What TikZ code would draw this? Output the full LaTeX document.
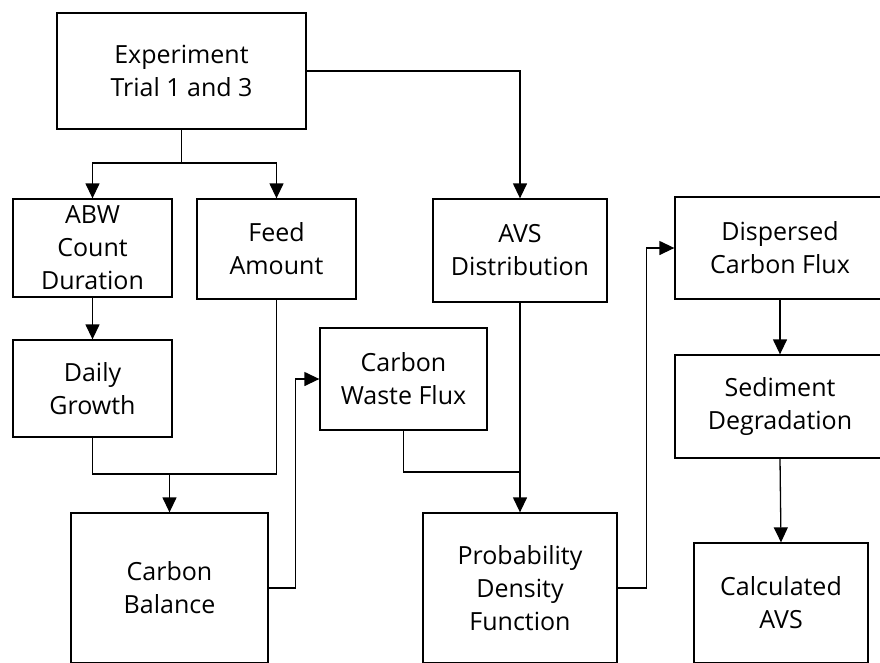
\documentclass[tikz,border=0pt]{standalone}
\usepackage{fontspec}
\setmainfont{Open Sans}
\usepackage{tikz}
\usetikzlibrary{arrows.meta,positioning,calc}

\begin{document}
\begin{tikzpicture}[x=1pt, y=-1pt, line width=1.3pt, >={Triangle[width=14pt,length=15pt]},
    box/.style={draw, rectangle, inner sep=0pt, align=center, font=\fontsize{25}{33}\selectfont}]
    \useasboundingbox (0,0) rectangle (880,662);
    \clip (0,0) rectangle (880,662);

    % Top
    \node[box, minimum width=249pt, minimum height=116pt] (exp) at (181.5, 71) {Experiment\\Trial 1 and 3};

    % Second row
    \node[box, minimum width=159pt, minimum height=98pt] (abw) at (92.5, 248) {ABW\\Count\\Duration};
    \node[box, minimum width=159pt, minimum height=100pt] (feed) at (276.5, 249) {Feed\\Amount};
    \node[box, minimum width=174pt, minimum height=103pt] (avs) at (520, 250.5) {AVS\\Distribution};
    \node[box, minimum width=210pt, minimum height=102pt] (disp) at (780, 248) {Dispersed\\Carbon Flux};

    % Middle
    \node[box, minimum width=159pt, minimum height=97pt] (daily) at (92.5, 388.5) {Daily\\Growth};
    \node[box, minimum width=167pt, minimum height=102pt] (cwf) at (403.5, 379) {Carbon\\Waste Flux};
    \node[box, minimum width=210pt, minimum height=103pt] (sed) at (780, 406.5) {Sediment\\Degradation};

    % Bottom
    \node[box, minimum width=197pt, minimum height=150pt] (cb) at (169.5, 588) {Carbon\\Balance};
    \node[box, minimum width=194pt, minimum height=150pt] (pdf) at (520, 588) {Probability\\Density\\Function};
    \node[box, minimum width=174pt, minimum height=120pt] (calc) at (781, 603) {Calculated\\AVS};

    % Connections
    \coordinate (split) at (181.5, 163);
    \draw (exp.south) -- (split);
    \draw[->] (split) -| (abw.north);
    \draw[->] (split) -| (feed.north);
    \draw[->] (exp.east) -| (avs.north);

    \draw[->] (abw.south) -- (daily.north);

    \coordinate (join) at (169.5, 474);
    \draw (daily.south) |- (join);
    \draw (feed.south) |- (join);
    \draw[->] (join) -- (cb.north);

    \draw[->] (cb.east) -- ++(27,0) |- (cwf.west);

    \coordinate (join2) at (520, 472);
    \draw (cwf.south) |- (join2);
    \draw[->] (avs.south) -- (pdf.north);

    \draw[->] (pdf.east) -- ++(29,0) |- (disp.west);

    \draw[->] (disp.south) -- (sed.north);
    \draw[->] (sed.south) -- (calc.north);

\end{tikzpicture}
\end{document}
